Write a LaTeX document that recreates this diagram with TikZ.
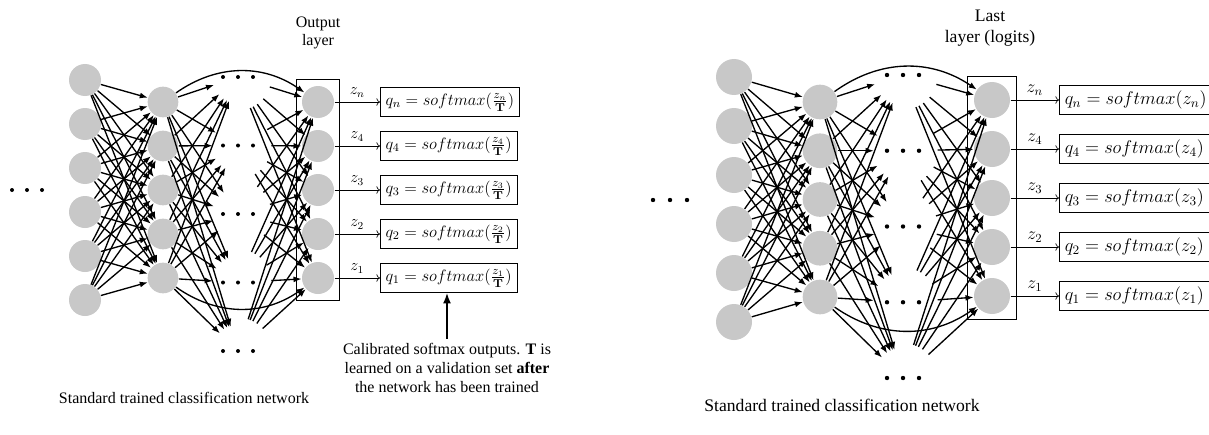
\RequirePackage{fix-cm}
\documentclass[tikz,border=0pt]{standalone}
\usepackage[no-math]{fontspec}
\setmainfont{Liberation Serif}
\usetikzlibrary{arrows.meta,fit,positioning}

\definecolor{neurongray}{RGB}{200,200,200}

\tikzset{every picture/.style={line width=0.75pt}}
\tikzset{
  neuron/.style={circle,fill=neurongray,draw=none,inner sep=0pt},
  synapse/.style={line width=1pt,-{Latex[length=6pt,width=4.5pt]}},
  logit/.style={line width=0.5pt,->},
  qbox/.style={draw,line width=0.6pt,anchor=west,inner sep=4pt,minimum height=21pt},
  layerbox/.style={draw,line width=0.6pt},
}

\begin{document}
\begin{tikzpicture}[x=0.75pt,y=0.75pt,yscale=-1,xscale=1]
\useasboundingbox (0,0) rectangle (1209,435);

%%%%%%%%%% Left: network with temperature %%%%%%%%%%
\begin{scope}[font=\fontsize{12}{14}\selectfont]
% Input layer
\foreach \i in {1,...,6}
  \node[neuron,minimum size=24pt] (aI\i) at (85,{80+44*(\i-1)}) {};
% Hidden layer
\foreach \j in {1,...,5}
  \node[neuron,minimum size=23pt] (aH\j) at (163,{102+44*(\j-1)}) {};
% Dots column
\foreach \j in {1,...,5}
  \coordinate (aM\j) at (238,{77+68.5*(\j-1)});
% Output layer
\foreach \k in {1,...,5}
  \node[neuron,minimum size=24pt] (aO\k) at (318,{102+44*(\k-1)}) {};

% Connections
\foreach \i in {1,...,6}
  \foreach \j in {1,...,5}
    \draw[synapse] (aI\i) -- (aH\j);
\foreach \j in {1,...,5}
  \foreach \m in {1,...,5}{
    \draw[synapse,shorten >=19pt] (aH\j) -- (aM\m);
    \draw[synapse,shorten <=25pt] (aM\m) -- (aO\j);
  }
\draw[synapse] (aH1) to[bend right=35] (aO1);
\draw[synapse] (aH5) to[bend left=35] (aO5);

% Dots
\foreach \j in {1,...,5}
  \fill ([xshift=-11.25pt]aM\j) circle (2) (aM\j) circle (2) ([xshift=11.25pt]aM\j) circle (2);
\fill (12,190) circle (2) (27,190) circle (2) (42,190) circle (2);

% Output layer box
\node[layerbox,fit=(aO1)(aO5),inner xsep=3.5pt,inner ysep=4.5pt] (aBox) {};
\node[align=center] (aTitle) at (318,33) {Output\\layer};

% Softmax boxes
\foreach \k/\s in {1/n,2/4,3/3,4/2,5/1}{
  \node[qbox,font=\fontsize{12.4}{15}\selectfont] (aQ\k) at (380,{102+44*(\k-1)}) {$q_{\s} = softmax(\frac{z_{\s}}{\mathbf{T}})$};
  \draw[logit] (aO\k) -- node[above] {$z_{\s}$} (aQ\k);
}

% Text Node
\node[align=center] (aNote) at (447,368) {Calibrated softmax outputs. \textbf{T} is\\learned on a validation set \textbf{after}\\the network has been trained};
\draw[line width=1.3pt,-{Latex[length=8pt,width=6pt]}] (aNote.north) -- (aNote.north |- aQ5.south);
% Text Node
\node (aCap) at (184,398) {Standard trained classification network};
\end{scope}

%%%%%%%%%% Right: network with logits %%%%%%%%%%
\begin{scope}[font=\fontsize{13.2}{15.5}\selectfont]
% Input layer
\foreach \i in {1,...,6}
  \node[neuron,minimum size=27pt] (bI\i) at (734,{77+49*(\i-1)}) {};
% Hidden layer
\foreach \j in {1,...,5}
  \node[neuron,minimum size=26pt] (bH\j) at (820,{102+48.75*(\j-1)}) {};
% Dots column
\foreach \j in {1,...,5}
  \coordinate (bM\j) at (903,{75+75.75*(\j-1)});
% Output layer
\foreach \k in {1,...,5}
  \node[neuron,minimum size=27pt] (bO\k) at (992,{100+49*(\k-1)}) {};

% Connections
\foreach \i in {1,...,6}
  \foreach \j in {1,...,5}
    \draw[synapse] (bI\i) -- (bH\j);
\foreach \j in {1,...,5}
  \foreach \m in {1,...,5}{
    \draw[synapse,shorten >=22pt] (bH\j) -- (bM\m);
    \draw[synapse,shorten <=26pt] (bM\m) -- (bO\j);
  }
\draw[synapse] (bH1) to[bend right=35] (bO1);
\draw[synapse] (bH5) to[bend left=35] (bO5);

% Dots
\foreach \j in {1,...,5}
  \fill ([xshift=-12pt]bM\j) circle (2.2) (bM\j) circle (2.2) ([xshift=12pt]bM\j) circle (2.2);
\fill (653,200) circle (2.2) (670,200) circle (2.2) (687,200) circle (2.2);

% Output layer box
\node[layerbox,fit=(bO1)(bO5),inner xsep=4.5pt,inner ysep=4pt] (bBox) {};
\node[align=center] (bTitle) at (990,28) {Last\\layer (logits)};

% Softmax boxes
\foreach \k/\s in {1/n,2/4,3/3,4/2,5/1}{
  \node[qbox,font=\fontsize{13.8}{15}\selectfont] (bQ\k) at (1059,{100+49*(\k-1)}) {$q_{\s} = softmax(z_{\s})$};
  \draw[logit] (bO\k) -- node[above] {$z_{\s}$} (bQ\k);
}

% Text Node
\node (bCap) at (842,405) {Standard trained classification network};
\end{scope}

\end{tikzpicture}
\end{document}
